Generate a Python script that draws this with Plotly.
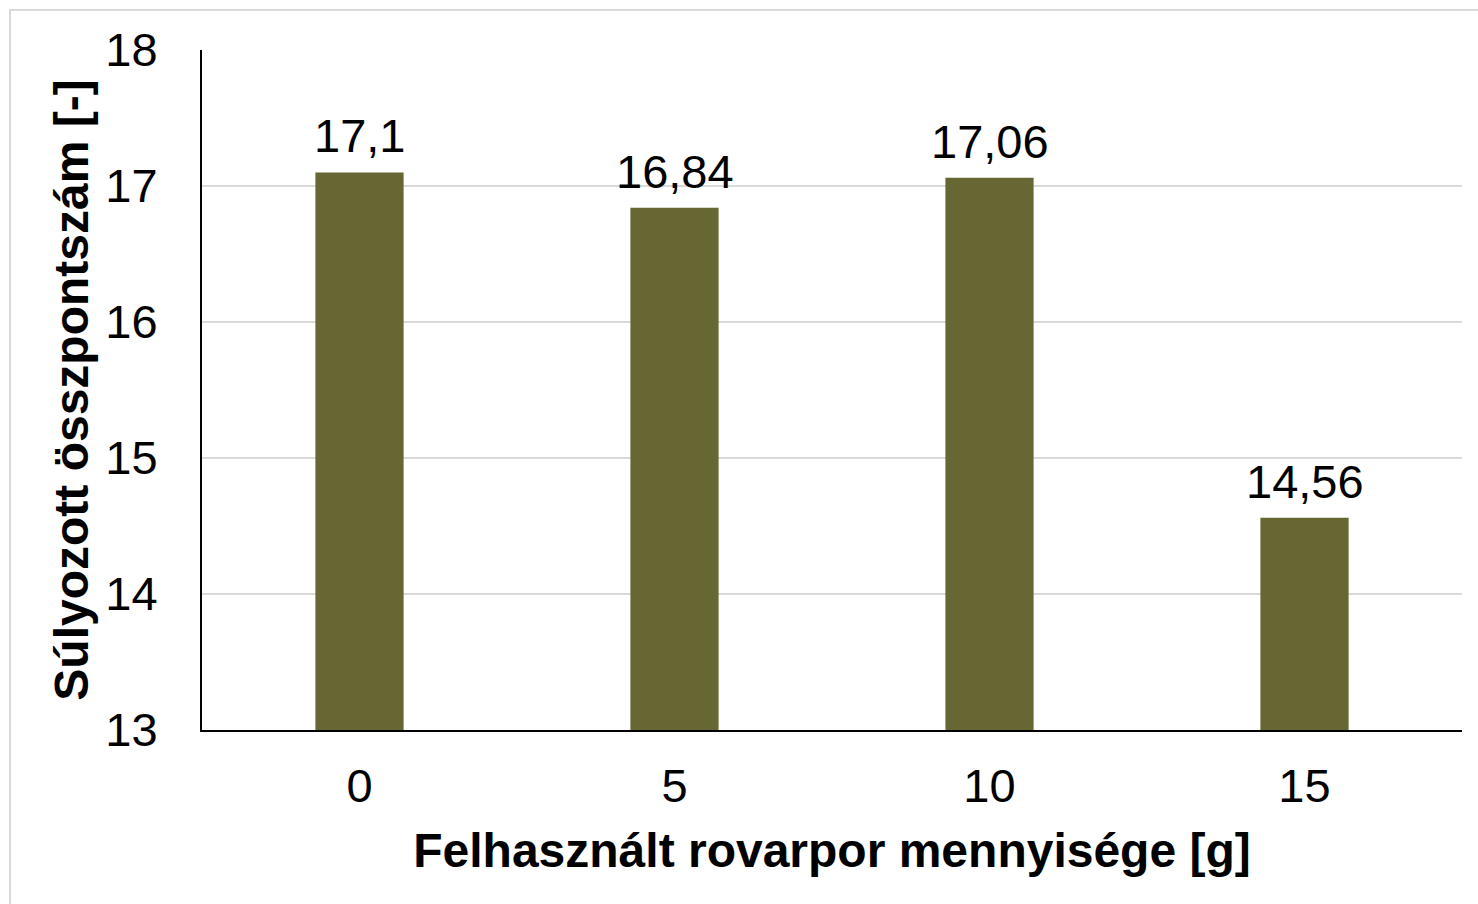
import plotly.graph_objects as go

categories = ["0", "5", "10", "15"]
values = [17.1, 16.84, 17.06, 14.56]
labels = [str(v).replace(".", ",") for v in values]
y_ticks = [13, 14, 15, 16, 17, 18]

W, H = 1478, 904
L, R, T, B = 202, 16, 50, 174
pw, ph = W - L - R, H - T - B

fig = go.Figure(go.Bar(
    x=categories, y=values,
    marker=dict(color="#676733", line=dict(width=0)),
    width=0.28, hoverinfo="x+y",
))

font = "Liberation Sans, Arial, sans-serif"
annotations = [
    dict(x=i, y=v, text=t, xref="x", yref="y", yanchor="bottom", xanchor="center",
         showarrow=False, yshift=8, font=dict(size=47, color="#000000"))
    for i, (v, t) in enumerate(zip(values, labels))
]

fig.update_layout(
    width=W, height=H,
    margin=dict(l=L, r=R, t=T, b=B, autoexpand=False),
    paper_bgcolor="white", plot_bgcolor="white",
    font=dict(family=font, size=47, color="#000000"),
    showlegend=False,
    xaxis=dict(
        type="category", showline=True, linecolor="#000000", linewidth=2,
        showgrid=False, ticks="", ticklabelstandoff=14,
        categoryorder="array", categoryarray=categories,
        range=[-0.5, len(categories) - 0.5],
        tickfont=dict(size=47),
        title=dict(text="<b>Felhasznált rovarpor mennyisége [g]</b>", font=dict(size=48), standoff=22),
    ),
    yaxis=dict(
        range=[13, 18], tickvals=y_ticks, showline=True, linecolor="#000000", linewidth=2,
        showgrid=True, gridcolor="#d9d9d9", gridwidth=2, ticks="", ticklabelstandoff=33,
        tickfont=dict(size=47), zeroline=False,
        title=dict(text="<b>Súlyozott összpontszám [-]</b>", font=dict(size=48), standoff=2),
    ),
    annotations=annotations,
    shapes=[dict(
        type="rect", xref="paper", yref="paper",
        x0=-(L - 10) / pw, x1=1 + (R + 20) / pw,
        y0=-(B + 20) / ph, y1=1 + (T - 10) / ph,
        line=dict(color="#d9d9d9", width=2), fillcolor="rgba(0,0,0,0)", layer="below",
    )],
)

fig.write_html("out.html", config={"displayModeBar": False},
               post_script="document.body.style.margin='0';document.body.style.overflow='hidden';")
